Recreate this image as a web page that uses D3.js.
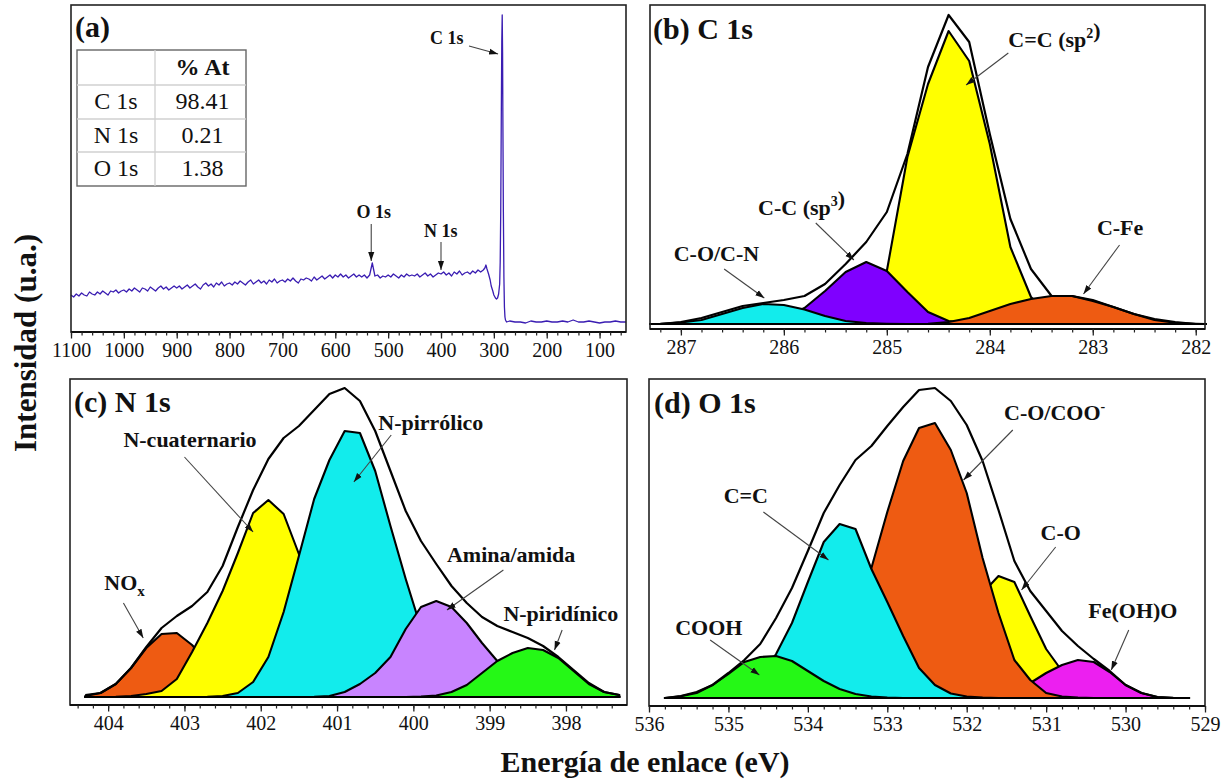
<!DOCTYPE html>
<html>
<head>
<meta charset="utf-8">
<title>XPS</title>
<script src="https://cdn.jsdelivr.net/npm/d3@7/dist/d3.min.js"></script>
<style>
  html, body { margin: 0; padding: 0; background: #fff; }
  svg { display: block; }
  text { font-family: "Liberation Serif", "Times New Roman", serif; fill: #111; }
</style>
</head>
<body>
<svg id="chart" width="1228" height="782"></svg>
<script>
// ---------- (a) survey spectrum ----------
const surveyEnergy = d3.range(1100, 320, -5); // energy channels (eV)
const surveyCounts = [
  37, 35, 38, 36, 39, 37, 36, 40, 38, 37,
  40, 38, 41, 39, 37, 41, 40, 42, 39, 41,
  42, 40, 43, 41, 44, 42, 40, 44, 43, 41,
  45, 43, 41, 44, 46, 43, 45, 42, 44, 46,
  44, 46, 43, 45, 47, 44, 46, 48, 45, 43,
  47, 49, 46, 48, 45, 49, 47, 50, 46, 48,
  49, 47, 50, 48, 51, 49, 47, 50, 52, 48,
  50, 52, 49, 51, 48, 52, 50, 53, 49, 51,
  52, 50, 53, 51, 54, 51, 49, 53, 52, 54,
  53, 51, 55, 52, 54, 56, 53, 55, 57, 54,
  57, 55, 58, 55, 57, 54, 56, 58, 55, 57,
  55, 57, 54, 57, 69, 56, 57, 54, 56, 55,
  57, 55, 58, 56, 54, 57, 55, 58, 56, 57,
  56, 58, 55, 57, 59, 56, 58, 55, 57, 59,
  58, 60, 57, 59, 56, 60, 58, 61, 57, 59,
  60, 58, 61, 59, 62, 60
];
const surveyEdgeEnergy = [320, 317, 315, 313, 310, 307, 305, 302, 300, 297, 295, 293, 291, 289, 288, 287, 286, 285, 284.2, 283.5, 283, 282, 281, 280, 279, 278, 276];
const surveyEdgeCounts = [62, 64, 67, 63, 58, 52, 46, 41, 37, 34, 33, 34, 38, 48, 70, 120, 210, 290, 317, 280, 220, 120, 55, 25, 15, 12, 10];
const surveyTailEnergy = [270, 260, 250, 240, 230, 220, 210, 200, 190, 180, 170, 160, 150, 140, 130, 120, 110, 100, 90, 80, 70, 60, 50];
const surveyTailCounts = [11, 10, 10, 9, 11, 10, 10, 11, 10, 10, 11, 10, 12, 10, 10, 11, 10, 9, 10, 10, 11, 10, 10];
const surveyTicks = [1100, 1000, 900, 800, 700, 600, 500, 400, 300, 200, 100];
const compositionRows = ["C 1s", "N 1s", "O 1s"];
const compositionValues = ["98.41", "0.21", "1.38"];

// ---------- (b) C 1s ----------
const c1sEnergy = [287.3, 287.2, 287.0, 286.8, 286.6, 286.4, 286.2, 286.0, 285.8, 285.6, 285.4, 285.2, 285.0, 284.8, 284.6, 284.4, 284.2, 284.0, 283.8, 283.6, 283.4, 283.2, 283.0, 282.8, 282.6, 282.4, 282.2, 282.0, 281.9];
const c1sEnvelope = [0, 0, 2, 6, 12, 18, 21, 24, 28, 40, 60, 82, 112, 170, 257, 309, 282, 190, 105, 55, 28, 28, 23, 17, 10, 5, 2, 0, 0];
const c1sCOCN = [0, 0.3, 1.5, 4, 10, 16, 20, 19, 14.5, 8, 3, 1, 0.3, 0, 0, 0, 0, 0, 0, 0, 0, 0, 0, 0, 0, 0, 0, 0, 0];
const c1sSp3 = [0, 0, 0, 0, 0, 0.5, 2, 6, 16, 33, 52, 62, 53, 32, 12, 3, 0.5, 0, 0, 0, 0, 0, 0, 0, 0, 0, 0, 0, 0];
const c1sSp2 = [0, 0, 0, 0, 0, 0, 0, 0, 0, 0.5, 3, 15, 53, 167, 240, 293, 263, 180, 77, 27, 7, 1.5, 0.3, 0, 0, 0, 0, 0, 0];
const c1sCFe = [0, 0, 0, 0, 0, 0, 0, 0, 0, 0, 0, 0, 0, 0, 0.3, 2, 6, 13, 20, 25, 28, 28, 24, 17, 10, 4, 1.2, 0.3, 0];
const c1sTicks = [287, 286, 285, 284, 283, 282];

// ---------- (c) N 1s ----------
const n1sEnergy = [404.3, 404.1, 403.9, 403.7, 403.5, 403.3, 403.1, 402.9, 402.7, 402.5, 402.3, 402.1, 401.9, 401.7, 401.5, 401.3, 401.1, 400.9, 400.7, 400.5, 400.3, 400.1, 399.9, 399.7, 399.5, 399.3, 399.1, 398.9, 398.7, 398.5, 398.3, 398.1, 397.9, 397.7, 397.5, 397.3];
const n1sEnvelope = [2, 4, 13, 29, 50, 69, 81, 91, 105, 131, 170, 207, 238, 259, 271, 287, 303, 309, 296, 266, 226, 186, 156, 133, 111, 94, 80, 71, 65, 59, 51, 40, 27, 14, 5, 2];
const n1sNOx = [1, 4, 13, 29, 49, 63, 64, 52, 35, 17, 7, 2, 0.5, 0, 0, 0, 0, 0, 0, 0, 0, 0, 0, 0, 0, 0, 0, 0, 0, 0, 0, 0, 0, 0, 0, 0];
const n1sCuaternario = [0, 0, 0.3, 1, 3, 6, 18, 45, 74, 106, 144, 184, 197, 183, 143, 99, 59, 30, 12, 4, 1, 0.3, 0, 0, 0, 0, 0, 0, 0, 0, 0, 0, 0, 0, 0, 0];
const n1sPirrolico = [0, 0, 0, 0, 0, 0, 0, 0, 0.3, 1, 4, 15, 40, 85, 141, 198, 237, 266, 264, 226, 171, 118, 69, 38, 18, 7, 2.5, 1, 0.3, 0, 0, 0, 0, 0, 0, 0];
const n1sAmina = [0, 0, 0, 0, 0, 0, 0, 0, 0, 0, 0, 0, 0, 0, 0, 0.3, 1, 5, 13, 24, 40, 68, 90, 96, 90, 74, 54, 36, 20, 10, 4, 1.5, 0.5, 0, 0, 0];
const n1sPiridinico = [0, 0, 0, 0, 0, 0, 0, 0, 0, 0, 0, 0, 0, 0, 0, 0, 0, 0, 0, 0, 0, 0, 0.5, 1.5, 5, 12, 24, 36, 44, 49, 47, 39, 26, 13, 5, 2];
const n1sTicks = [404, 403, 402, 401, 400, 399, 398];

// ---------- (d) O 1s ----------
const o1sEnergy = [535.8, 535.6, 535.4, 535.2, 535.0, 534.8, 534.6, 534.4, 534.2, 534.0, 533.8, 533.6, 533.4, 533.2, 533.0, 532.8, 532.6, 532.4, 532.2, 532.0, 531.8, 531.6, 531.4, 531.2, 531.0, 530.8, 530.6, 530.4, 530.2, 530.0, 529.8, 529.6, 529.4, 529.2];
const o1sEnvelope = [0, 2, 6, 13, 25, 38, 54, 80, 110, 147, 185, 213, 238, 252, 272, 291, 308, 310, 297, 273, 237, 188, 137, 107, 87, 67, 52, 39, 27, 13, 5, 1, 0, 0];
const o1sCOOH = [0, 1.7, 5, 13, 24, 36, 41, 42, 37, 27, 17, 9, 4, 1.5, 0.5, 0, 0, 0, 0, 0, 0, 0, 0, 0, 0, 0, 0, 0, 0, 0, 0, 0, 0, 0];
const o1sCC = [0, 0, 0.5, 1.5, 4, 10, 22, 44, 75, 116, 156, 174, 169, 129, 96, 62, 30, 13, 4.5, 1.5, 0.5, 0, 0, 0, 0, 0, 0, 0, 0, 0, 0, 0, 0, 0];
const o1sCOO = [0, 0, 0, 0, 0, 0, 0, 1, 3, 8, 20, 43, 80, 130, 186, 237, 270, 275, 248, 205, 140, 85, 38, 18, 5, 1.5, 0.5, 0, 0, 0, 0, 0, 0, 0];
const o1sCO = [0, 0, 0, 0, 0, 0, 0, 0, 0, 0, 0, 0, 0, 0, 0, 0, 1.5, 6, 22, 55, 105, 122, 116, 82, 49, 27, 12, 5, 1.5, 0.3, 0, 0, 0, 0];
const o1sFeOOH = [0, 0, 0, 0, 0, 0, 0, 0, 0, 0, 0, 0, 0, 0, 0, 0, 0, 0, 0, 0, 0, 1, 5, 15, 25, 33, 38, 36, 26, 13, 5, 1, 0.3, 0];
const o1sTicks = [536, 535, 534, 533, 532, 531, 530, 529];

// ---------- drawing ----------
const svg = d3.select("#chart");
const COL = {
  cyan: "#12ecec", violet: "#7f00ff", yellow: "#ffff00", orange: "#ee5b12",
  lilac: "#c884ff", green: "#25f816", magenta: "#ec1ff0", survey: "#3a1db2"
};

svg.append("defs").append("marker")
  .attr("id", "arrowHead").attr("viewBox", "0 0 10 10")
  .attr("refX", 10).attr("refY", 5)
  .attr("markerWidth", 9).attr("markerHeight", 9)
  .attr("markerUnits", "userSpaceOnUse").attr("orient", "auto")
  .append("path").attr("d", "M0,1.6L10,5L0,8.4Z").attr("fill", "#111");

function minorRange(from, to, step) {
  const n = Math.round(Math.abs(to - from) / step);
  return d3.range(n + 1).map(i => +(from - i * step).toFixed(2));
}

function makePanel(box, xDomain, yDomain, majors, minors) {
  const x = d3.scaleLinear().domain(xDomain).range([box.x0, box.x1]);
  const y = d3.scaleLinear().domain(yDomain).range([box.y1, box.y0]);
  const g = svg.append("g");
  g.append("rect").attr("x", box.x0).attr("y", box.y0)
    .attr("width", box.x1 - box.x0).attr("height", box.y1 - box.y0).attr("fill", "#fff");
  const plot = g.append("g");
  const over = g.append("g");
  over.append("rect").attr("x", box.x0).attr("y", box.y0)
    .attr("width", box.x1 - box.x0).attr("height", box.y1 - box.y0)
    .attr("fill", "none").attr("stroke", "#222").attr("stroke-width", 1.6);
  over.append("line").attr("x1", box.x0).attr("x2", box.x1)
    .attr("y1", box.y1).attr("y2", box.y1).attr("stroke", "#111").attr("stroke-width", 2.2);

  const minorAxis = d3.axisBottom(x).tickValues(minors).tickSize(3.5).tickFormat("");
  over.append("g").attr("transform", `translate(0,${box.y1})`).call(minorAxis)
    .call(a => a.select(".domain").remove())
    .call(a => a.selectAll("line").attr("stroke", "#222").attr("stroke-width", 1.2));
  const majorAxis = d3.axisBottom(x).tickValues(majors).tickSize(6.5).tickPadding(4.5).tickFormat(d3.format("d"));
  over.append("g").attr("transform", `translate(0,${box.y1})`).call(majorAxis)
    .call(a => a.select(".domain").remove())
    .call(a => a.selectAll("line").attr("stroke", "#222").attr("stroke-width", 1.3))
    .call(a => a.selectAll("text").attr("font-size", 20).attr("fill", "#222")
      .attr("font-family", '"Liberation Serif","Times New Roman",serif'));
  return { x, y, g: plot, over, box };
}

function drawComponents(p, energy, comps) {
  const area = d3.area().x((d, i) => p.x(energy[i])).y0(p.y(0)).y1(d => p.y(d));
  comps.forEach(c => {
    p.g.append("path").datum(c.values).attr("d", area)
      .attr("fill", c.color).attr("stroke", "#000").attr("stroke-width", 2.1)
      .attr("stroke-linejoin", "round");
  });
}

function drawEnvelope(p, energy, values) {
  const line = d3.line().x((d, i) => p.x(energy[i])).y(d => p.y(d));
  p.g.append("path").datum(values).attr("d", line)
    .attr("fill", "none").attr("stroke", "#000").attr("stroke-width", 2.2)
    .attr("stroke-linejoin", "round");
}

function panelTitle(p, str, dx, dy) {
  p.over.append("text").attr("x", p.box.x0 + dx).attr("y", p.box.y0 + dy)
    .attr("font-size", 30).attr("font-weight", "bold").text(str);
}

function annotate(p, a) {
  const t = p.over.append("text").attr("x", p.x(a.at[0])).attr("y", p.y(a.at[1]))
    .attr("font-size", a.size || 22).attr("font-weight", "bold");
  a.parts.forEach(part => {
    if (typeof part === "string") { t.append("tspan").text(part); }
    else if (part.sup) {
      t.append("tspan").attr("dy", -9).attr("font-size", 14).text(part.sup);
      t.append("tspan").attr("dy", 9).text("");
    } else if (part.sub) {
      t.append("tspan").attr("dy", 6).attr("font-size", 15).text(part.sub);
      t.append("tspan").attr("dy", -6).text("");
    }
  });
  p.over.append("line")
    .attr("x1", p.x(a.from[0])).attr("y1", p.y(a.from[1]))
    .attr("x2", p.x(a.to[0])).attr("y2", p.y(a.to[1]))
    .attr("stroke", "#444").attr("stroke-width", 1.1)
    .attr("marker-end", "url(#arrowHead)");
}

// (a) survey
const pa = makePanel({ x0: 71, x1: 626, y0: 5, y1: 332 }, [1100, 50], [0, 327],
  surveyTicks, minorRange(1100, 60, 20));
const surveyPoints = surveyEnergy.map((e, i) => [e, surveyCounts[i]])
  .concat(surveyEdgeEnergy.map((e, i) => [e, surveyEdgeCounts[i]]))
  .concat(surveyTailEnergy.map((e, i) => [e, surveyTailCounts[i]]));
pa.g.append("path").datum(surveyPoints)
  .attr("d", d3.line().x(d => pa.x(d[0])).y(d => pa.y(d[1])))
  .attr("fill", "none").attr("stroke", COL.survey).attr("stroke-width", 1.3)
  .attr("stroke-linejoin", "round");
panelTitle(pa, "(a)", 4, 32);
annotate(pa, { parts: ["C 1s"], size: 18, at: [421, 288], from: [347, 286], to: [292, 278] });
annotate(pa, { parts: ["O 1s"], size: 18, at: [560, 114], from: [532, 108], to: [532, 71] });
annotate(pa, { parts: ["N 1s"], size: 18, at: [432, 95], from: [400, 90], to: [400, 62] });

// composition table
(function () {
  const tx0 = 77, tx1 = 246, tcol = 155, rowY = [50, 85, 119, 152, 186];
  const tg = pa.over.append("g");
  tg.append("rect").attr("x", tx0).attr("y", rowY[0]).attr("width", tx1 - tx0)
    .attr("height", rowY[4] - rowY[0]).attr("fill", "#fff").attr("stroke", "#666").attr("stroke-width", 1.4);
  rowY.slice(1, 4).forEach(yy => tg.append("line").attr("x1", tx0).attr("x2", tx1)
    .attr("y1", yy).attr("y2", yy).attr("stroke", "#d0d0d0").attr("stroke-width", 1.3));
  tg.append("line").attr("x1", tcol).attr("x2", tcol).attr("y1", rowY[0]).attr("y2", rowY[4])
    .attr("stroke", "#d0d0d0").attr("stroke-width", 1.3);
  tg.append("text").attr("x", (tcol + tx1) / 2 + 2).attr("y", rowY[0] + 25).attr("text-anchor", "middle")
    .attr("font-size", 24).attr("font-weight", "bold").text("% At");
  compositionRows.forEach((r, i) => {
    tg.append("text").attr("x", (tx0 + tcol) / 2).attr("y", rowY[i + 1] + 24).attr("text-anchor", "middle")
      .attr("font-size", 24).text(r);
    tg.append("text").attr("x", (tcol + tx1) / 2 + 2).attr("y", rowY[i + 1] + 24).attr("text-anchor", "middle")
      .attr("font-size", 24).text(compositionValues[i]);
  });
})();

// (b) C 1s
const pb = makePanel({ x0: 650, x1: 1205, y0: 5, y1: 329 }, [287.3, 281.91], [-5, 319],
  c1sTicks, minorRange(287.2, 282.0, 0.2));
drawComponents(pb, c1sEnergy, [
  { values: c1sSp2, color: COL.yellow },
  { values: c1sSp3, color: COL.violet },
  { values: c1sCFe, color: COL.orange },
  { values: c1sCOCN, color: COL.cyan }
]);
drawEnvelope(pb, c1sEnergy, c1sEnvelope);
panelTitle(pb, "(b) C 1s", 3, 34);
annotate(pb, { parts: ["C=C (sp", { sup: "2" }, ")"], at: [283.82, 277], from: [283.82, 271], to: [284.23, 239] });
annotate(pb, { parts: ["C-C (sp", { sup: "3" }, ")"], at: [286.25, 109], from: [285.69, 101], to: [285.32, 64] });
annotate(pb, { parts: ["C-O/C-N"], at: [287.07, 63], from: [286.58, 55], to: [286.19, 26] });
annotate(pb, { parts: ["C-Fe"], at: [282.96, 89], from: [282.74, 79], to: [283.09, 30] });

// (c) N 1s
const pc = makePanel({ x0: 70, x1: 627, y0: 379, y1: 705 }, [404.5, 397.2], [-8, 318],
  n1sTicks, minorRange(404.4, 397.4, 0.2));
drawComponents(pc, n1sEnergy, [
  { values: n1sNOx, color: COL.orange },
  { values: n1sCuaternario, color: COL.yellow },
  { values: n1sPirrolico, color: COL.cyan },
  { values: n1sAmina, color: COL.lilac },
  { values: n1sPiridinico, color: COL.green }
]);
drawEnvelope(pc, n1sEnergy, n1sEnvelope);
panelTitle(pc, "(c) N 1s", 4, 33);
annotate(pc, { parts: ["N-cuaternario"], at: [403.80, 250], from: [403.0, 240], to: [402.1, 165] });
annotate(pc, { parts: ["N-pirrólico"], at: [400.46, 267], from: [400.29, 262], to: [400.78, 215] });
annotate(pc, { parts: ["Amina/amida"], at: [399.56, 135], from: [398.82, 127], to: [399.56, 87] });
annotate(pc, { parts: ["NO", { sub: "x" }], at: [404.05, 107], from: [403.80, 94], to: [403.54, 59] });
annotate(pc, { parts: ["N-piridínico"], at: [398.82, 76], from: [398.05, 67], to: [398.15, 47] });

// (d) O 1s
const pd = makePanel({ x0: 649, x1: 1205, y0: 379, y1: 706 }, [536, 529], [-8, 319],
  o1sTicks, minorRange(536, 529, 0.2));
drawComponents(pd, o1sEnergy, [
  { values: o1sCO, color: COL.yellow },
  { values: o1sFeOOH, color: COL.magenta },
  { values: o1sCOO, color: COL.orange },
  { values: o1sCC, color: COL.cyan },
  { values: o1sCOOH, color: COL.green }
]);
drawEnvelope(pd, o1sEnergy, o1sEnvelope);
panelTitle(pd, "(d) O 1s", 5, 34);
annotate(pd, { parts: ["C-O/COO", { sup: "-" }], at: [531.53, 278], from: [531.42, 268], to: [532.04, 218] });
annotate(pd, { parts: ["C=C"], at: [535.06, 195], from: [534.56, 186], to: [533.74, 138] });
annotate(pd, { parts: ["C-O"], at: [531.07, 158], from: [530.88, 151], to: [531.31, 108] });
annotate(pd, { parts: ["COOH"], at: [535.67, 63], from: [535.23, 58], to: [534.61, 23] });
annotate(pd, { parts: ["Fe(OH)O"], at: [530.47, 80], from: [529.96, 68], to: [530.18, 28] });

// shared axis titles
svg.append("text").attr("x", 645).attr("y", 772).attr("text-anchor", "middle")
  .attr("font-size", 30).attr("font-weight", "bold").text("Energía de enlace (eV)");
svg.append("text").attr("transform", "translate(36,343) rotate(-90)").attr("text-anchor", "middle")
  .attr("font-size", 31).attr("font-weight", "bold").text("Intensidad (u.a.)");
</script>
</body>
</html>
